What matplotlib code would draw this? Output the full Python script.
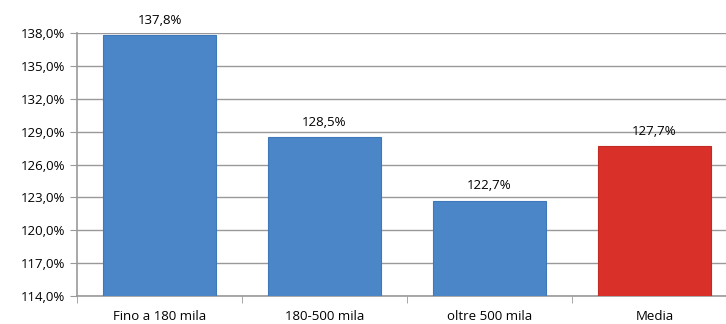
import matplotlib.pyplot as plt
import numpy as np

categories = ['Fino a 180 mila', '180-500 mila', 'oltre 500 mila', 'Media']
values = [137.8, 128.5, 122.7, 127.7]
colors = ['#4a86c8', '#4a86c8', '#4a86c8', '#d9302a']
yticks = [114, 117, 120, 123, 126, 129, 132, 135, 138]

plt.rcParams['font.family'] = ['Open Sans', 'DejaVu Sans']

fig = plt.figure(figsize=(7.26, 3.24), dpi=100)
ax = fig.add_axes([77 / 726, 28 / 324, 660 / 726, 263 / 324])

x = np.arange(len(categories))
bars = ax.bar(x, values, width=0.68, bottom=0, color=colors,
              edgecolor=['#3f78b8', '#3f78b8', '#3f78b8', '#c22a24'], linewidth=0.8, zorder=3)

for xi, v in zip(x, values):
    ax.annotate(f'{v:.1f}%'.replace('.', ','), (xi, v), xytext=(0, 6),
                textcoords='offset points', ha='center', va='bottom', fontsize=9.5)

ax.set_ylim(114, 138)
ax.set_xlim(-0.5, len(categories) - 0.5)
ax.set_yticks(yticks)
ax.set_yticklabels([f'{t:.1f}%'.replace('.', ',') for t in yticks], fontsize=9.5)
ax.set_xticks(x)
ax.set_xticklabels(categories, fontsize=9.5)
ax.set_xticks(np.arange(len(categories) + 1) - 0.5, minor=True)
ax.tick_params(axis='x', which='major', length=0, pad=10)
ax.tick_params(axis='x', which='minor', length=5, color='#999999')
ax.tick_params(axis='y', length=5, color='#999999')

ax.grid(axis='y', color='#999999', linewidth=1, zorder=0)
for s in ['top', 'right']:
    ax.spines[s].set_visible(False)
for s in ['left', 'bottom']:
    ax.spines[s].set_color('#999999')
    ax.spines[s].set_linewidth(1.2)

fig.savefig('out.png', dpi=100)
